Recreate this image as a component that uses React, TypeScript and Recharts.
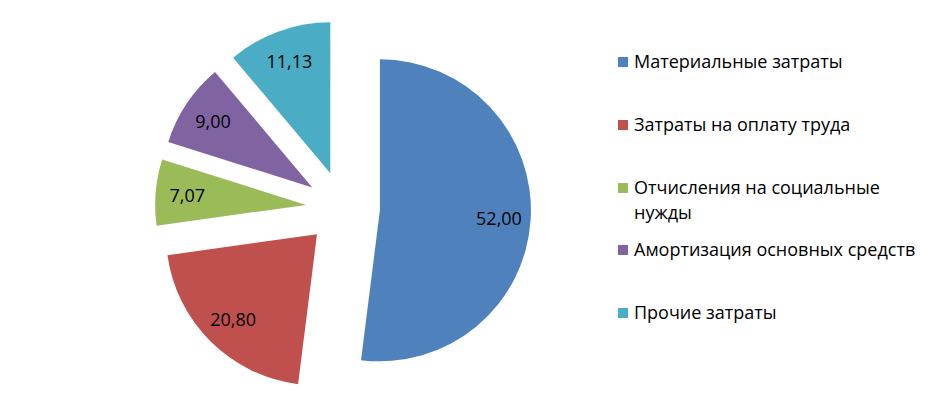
import { Legend, Pie, PieChart, Sector } from "recharts";

const categories = [
  "Материальные затраты",
  "Затраты на оплату труда",
  "Отчисления на социальные нужды",
  "Амортизация основных средств",
  "Прочие затраты",
];
const values = [52.0, 20.8, 7.07, 9.0, 11.13];
const colors = ["#4F81BD", "#C0504D", "#9BBB59", "#8064A2", "#4BACC6"];

const data = categories.map((name, i) => ({ name, value: values[i], fill: colors[i] }));

const FONT = "'Open Sans', 'Liberation Sans', Arial, sans-serif";
const RAD = Math.PI / 180;
const EXPLODE = 37;

// shift a slice outward along its mid angle
const offset = (midAngle: number, dist: number) => ({
  dx: dist * Math.cos(-midAngle * RAD),
  dy: dist * Math.sin(-midAngle * RAD),
});

function ExplodedSector(props: any) {
  const { cx, cy, midAngle, startAngle, endAngle, innerRadius, outerRadius, fill } = props;
  const { dx, dy } = offset(midAngle, EXPLODE);
  return (
    <Sector
      cx={cx + dx}
      cy={cy + dy}
      startAngle={startAngle}
      endAngle={endAngle}
      innerRadius={innerRadius}
      outerRadius={outerRadius}
      fill={fill}
      stroke="none"
    />
  );
}

function SliceLabel(props: any) {
  const { cx, cy, midAngle, outerRadius, value } = props;
  const { dx, dy } = offset(midAngle, EXPLODE + outerRadius * 0.79);
  return (
    <text
      x={cx + dx}
      y={cy + dy}
      textAnchor="middle"
      dominantBaseline="central"
      fill="#000"
      fontSize={18}
      fontFamily={FONT}
    >
      {Number(value).toFixed(2).replace(".", ",")}
    </text>
  );
}

function LegendList() {
  return (
    <div style={{ position: "relative", width: 310, height: 320, fontFamily: FONT }}>
      {data.map((d, i) => (
        <div
          key={d.name}
          style={{ position: "absolute", left: 0, top: i * 62.75, display: "flex", alignItems: "flex-start" }}
        >
          <span
            style={{ width: 10, height: 10, background: d.fill, marginTop: 8, marginRight: 6, flex: "none" }}
          />
          <span style={{ width: 290, fontSize: 18, lineHeight: "25px", color: "#000" }}>{d.name}</span>
        </div>
      ))}
    </div>
  );
}

export default function App() {
  return (
    <div style={{ position: "absolute", left: 0, top: 0, width: 939, height: 399, background: "#fff" }}>
      <PieChart width={939} height={399} margin={{ top: 0, right: 0, bottom: 0, left: 0 }}>
        <Pie
          data={data}
          dataKey="value"
          nameKey="name"
          cx={343}
          cy={208}
          outerRadius={151}
          startAngle={90}
          endAngle={-270}
          stroke="none"
          shape={ExplodedSector}
          label={SliceLabel}
          labelLine={false}
          isAnimationActive={false}
        />
        <Legend
          layout="vertical"
          content={() => <LegendList />}
          wrapperStyle={{ left: 618, top: 49, width: 310 }}
        />
      </PieChart>
    </div>
  );
}
